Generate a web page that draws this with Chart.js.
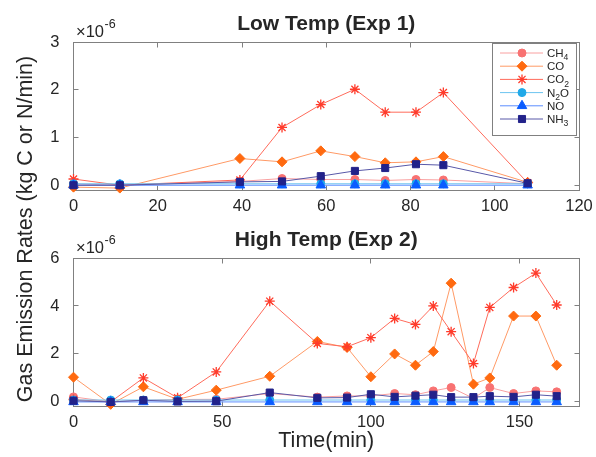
<!DOCTYPE html>
<html>
<head>
<meta charset="utf-8">
<script src="https://cdn.jsdelivr.net/npm/chart.js@4.4.1/dist/chart.umd.min.js"></script>
<style>
  body { margin: 0; background: #fff; }
  #wrap { position: relative; width: 596px; height: 457px; }
  canvas { position: absolute; left: 0; top: 0; }
</style>
</head>
<body>
<div id="wrap">
  <canvas id="lowChart" width="596" height="457"></canvas>
  <canvas id="highChart" width="596" height="457"></canvas>
</div>
<script>
// ---- data (rates in units of 1e-6 kg C or N / min) ----
const gasNames = ['CH_4', 'CO', 'CO_2', 'N_2O', 'NO', 'NH_3'];

// Low Temp (Exp 1)
const timeLow = [0, 11, 39.5, 49.5, 58.7, 66.8, 74, 81.3, 87.8, 107.8];
const ch4Low  = [0.03, 0, 0.08, 0.14, 0.12, 0.12, 0.1, 0.12, 0.11, 0.03];
const coLow   = [-0.04, -0.06, 0.56, 0.49, 0.72, 0.6, 0.47, 0.49, 0.6, 0.06];
const co2Low  = [0.13, 0, 0.11, 1.21, 1.69, 2.01, 1.53, 1.53, 1.94, 0.05];
const n2oLow  = [0.03, 0.03, 0.03, 0.03, 0.03, 0.03, 0.03, 0.03, 0.03, 0.03];
const noLow   = [0, 0, 0, 0, 0, 0, 0, 0, 0, 0];
const nh3Low  = [0, 0, 0.07, 0.08, 0.19, 0.3, 0.36, 0.44, 0.42, 0.04];

// High Temp (Exp 2)
const timeHigh = [0, 12.5, 23.5, 35, 48, 66, 82, 92, 100, 108, 115, 121, 127, 134.5, 140, 148, 155.5, 162.5];
const ch4High  = [0.21, 0, 0.07, 0.1, 0.11, 0.35, 0.2, 0.25, 0.25, 0.35, 0.3, 0.46, 0.6, 0.15, 0.6, 0.35, 0.46, 0.42];
const coHigh   = [1.03, -0.1, 0.63, 0.11, 0.49, 1.07, 2.52, 2.27, 1.05, 2.0, 1.53, 2.1, 4.95, 0.74, 1.0, 3.58, 3.58, 1.53];
const co2High  = [0.1, 0, 1.0, 0.17, 1.25, 4.2, 2.44, 2.3, 2.68, 3.48, 3.23, 4.0, 2.93, 1.6, 3.94, 4.77, 5.37, 4.04];
const n2oHigh  = [0.08, 0.08, 0.08, 0.08, 0.08, 0.08, 0.08, 0.08, 0.08, 0.08, 0.08, 0.08, 0.08, 0.08, 0.08, 0.08, 0.08, 0.08];
const noHigh   = [0, 0, 0, 0, 0, 0, 0, 0, 0, 0, 0, 0, 0, 0, 0, 0, 0, 0];
const nh3High  = [0.05, 0, 0.07, 0.02, 0.03, 0.39, 0.17, 0.18, 0.32, 0.21, 0.26, 0.3, 0.2, 0.2, 0.24, 0.21, 0.3, 0.24];

// tick labels
const xTicksLow  = [0, 20, 40, 60, 80, 100, 120];
const yTicksLow  = [0, 1, 2, 3];
const xTicksHigh = [0, 50, 100, 150];
const yTicksHigh = [0, 2, 4, 6];

// ---- styles ----
const FONT = "'Liberation Sans', Arial, sans-serif";
const TEXT = '#262626';
const markerStyles = ['circle', 'rectRot', 'star', 'circle', 'triangle', 'rect'];
const markerSizes  = [4, 5, 5, 4, 5.5, 5];
const markerColors = ['#f87272', '#ff6a10', '#ff3b2b', '#21a9e8', '#0a5cff', '#22228a'];
const lineColors   = ['#f9a0a0', '#ff9a66', '#ff6b5b', '#6cc4f0', '#5c8eff', '#5858a8'];

// text with "_x" = subscript x
function drawSubText(ctx, text, x, y, size) {
  let cx = x;
  for (let i = 0; i < text.length; i++) {
    let sub = false;
    if (text[i] === '_') { sub = true; i++; }
    ctx.font = (sub ? size * 0.75 : size) + 'px ' + FONT;
    ctx.fillText(text[i], cx, sub ? y + size * 0.3 : y);
    cx += ctx.measureText(text[i]).width;
  }
}

// matlab style box with inward ticks
const matlabBox = {
  id: 'matlabBox',
  beforeDatasetsDraw(chart) {
    const ctx = chart.ctx, a = chart.chartArea;
    const xs = chart.scales.x, ys = chart.scales.y;
    const L = Math.floor(a.left) + 0.5, R = Math.floor(a.right) + 0.5;
    const T = Math.floor(a.top) + 0.5, B = Math.floor(a.bottom) + 0.5;
    ctx.save();
    ctx.strokeStyle = '#808080';
    ctx.lineWidth = 1;
    ctx.strokeRect(L, T, R - L, B - T);
    ctx.beginPath();
    xs.ticks.forEach(t => {
      const p = Math.floor(xs.getPixelForValue(t.value)) + 0.5;
      ctx.moveTo(p, B); ctx.lineTo(p, B - 5);
      ctx.moveTo(p, T); ctx.lineTo(p, T + 5);
    });
    ys.ticks.forEach(t => {
      const p = Math.floor(ys.getPixelForValue(t.value)) + 0.5;
      ctx.moveTo(L, p); ctx.lineTo(L + 5, p);
      ctx.moveTo(R, p); ctx.lineTo(R - 5, p);
    });
    ctx.stroke();
    ctx.restore();
  }
};

// legend box in the top right corner
const boxLegend = {
  id: 'boxLegend',
  afterDatasetsDraw(chart, args, opts) {
    if (!opts.show) return;
    const ctx = chart.ctx, a = chart.chartArea;
    const w = 84, h = 92;
    const x0 = Math.floor(a.right - 3 - w), y0 = Math.floor(a.top + 1);
    ctx.save();
    ctx.fillStyle = '#fff';
    ctx.fillRect(x0, y0, w, h);
    ctx.strokeStyle = '#808080';
    ctx.lineWidth = 1;
    ctx.strokeRect(x0 + 0.5, y0 + 0.5, w, h);
    chart.data.datasets.forEach((ds, i) => {
      const y = y0 + 10 + i * 13.2;
      ctx.strokeStyle = ds.borderColor;
      ctx.lineWidth = 1;
      ctx.beginPath(); ctx.moveTo(x0 + 8, y); ctx.lineTo(x0 + 51, y); ctx.stroke();
      ctx.fillStyle = ds.pointBackgroundColor;
      ctx.strokeStyle = ds.pointBorderColor;
      ctx.lineWidth = ds.pointBorderWidth;
      Chart.helpers.drawPoint(ctx, { pointStyle: ds.pointStyle, radius: ds.pointRadius, rotation: 0, borderWidth: ds.pointBorderWidth }, x0 + 30, y);
      ctx.fillStyle = TEXT;
      ctx.textAlign = 'left';
      ctx.textBaseline = 'alphabetic';
      drawSubText(ctx, ds.label, x0 + 55, y + 4, 11.5);
    });
    ctx.restore();
  }
};

// titles, exponent and figure labels
const panelText = {
  id: 'panelText',
  afterDraw(chart, args, opts) {
    const ctx = chart.ctx, a = chart.chartArea;
    ctx.save();
    ctx.fillStyle = TEXT;
    ctx.textBaseline = 'alphabetic';
    ctx.textAlign = 'center';
    ctx.font = 'bold 21px ' + FONT;
    ctx.fillText(opts.title, (a.left + a.right) / 2, a.top - 12);
    ctx.textAlign = 'left';
    ctx.font = '16.5px ' + FONT;
    ctx.fillText('\u00d710', a.left + 2.5, a.top - 5);
    const w = ctx.measureText('\u00d710').width;
    ctx.font = '12.5px ' + FONT;
    ctx.fillText('-6', a.left + 3 + w, a.top - 14);
    if (opts.figLabels) {
      ctx.font = '21.5px ' + FONT;
      ctx.textAlign = 'center';
      ctx.textBaseline = 'middle';
      ctx.fillText('Time(min)', (a.left + a.right) / 2, 441);
      ctx.translate(26, 229);
      ctx.rotate(-Math.PI / 2);
      ctx.fillText('Gas Emission Rates (kg C or N/min)', 0, 0);
    }
    ctx.restore();
  }
};

function makeSets(times, series) {
  return series.map((vals, i) => ({
    label: gasNames[i],
    data: vals.map((v, j) => ({ x: times[j], y: v })),
    borderColor: lineColors[i],
    borderWidth: 1,
    pointStyle: markerStyles[i],
    pointRadius: markerSizes[i],
    pointBackgroundColor: markerColors[i],
    pointBorderColor: markerColors[i],
    pointBorderWidth: markerStyles[i] === 'star' ? 1.3 : 1,
    tension: 0,
    clip: false,
    order: series.length - i
  }));
}

function makePanel(id, p) {
  return new Chart(document.getElementById(id), {
    type: 'line',
    data: { datasets: makeSets(p.times, p.series) },
    options: {
      responsive: false,
      animation: false,
      events: [],
      layout: { padding: { left: 0, top: p.top, right: 17, bottom: 457 - p.bottom - 30 } },
      scales: {
        x: {
          type: 'linear', min: 0, max: p.xMax,
          afterBuildTicks: s => { s.ticks = p.xTicks.map(v => ({ value: v })); },
          afterFit: s => { s.height = 30; },
          grid: { display: false }, border: { display: false },
          ticks: { color: TEXT, font: { size: 16.5, family: FONT }, padding: -1, maxRotation: 0 }
        },
        y: {
          min: p.yMin, max: p.yMax,
          afterBuildTicks: s => { s.ticks = p.yTicks.map(v => ({ value: v })); },
          afterFit: s => { s.width = 73.5; },
          grid: { display: false }, border: { display: false },
          ticks: { color: TEXT, font: { size: 16.5, family: FONT }, padding: 6 }
        }
      },
      plugins: {
        legend: { display: false },
        tooltip: { enabled: false },
        boxLegend: { show: p.legend },
        panelText: { title: p.title, figLabels: p.figLabels }
      }
    },
    plugins: [matlabBox, boxLegend, panelText]
  });
}

makePanel('lowChart', {
  times: timeLow,
  series: [ch4Low, coLow, co2Low, n2oLow, noLow, nh3Low],
  xMax: 120, yMin: -0.1, yMax: 3,
  xTicks: xTicksLow, yTicks: yTicksLow,
  top: 42, bottom: 190,
  title: 'Low Temp (Exp 1)', legend: true, figLabels: false
});

makePanel('highChart', {
  times: timeHigh,
  series: [ch4High, coHigh, co2High, n2oHigh, noHigh, nh3High],
  xMax: 170, yMin: -0.17, yMax: 6,
  xTicks: xTicksHigh, yTicks: yTicksHigh,
  top: 258, bottom: 406,
  title: 'High Temp (Exp 2)', legend: false, figLabels: true
});
</script>
</body>
</html>
